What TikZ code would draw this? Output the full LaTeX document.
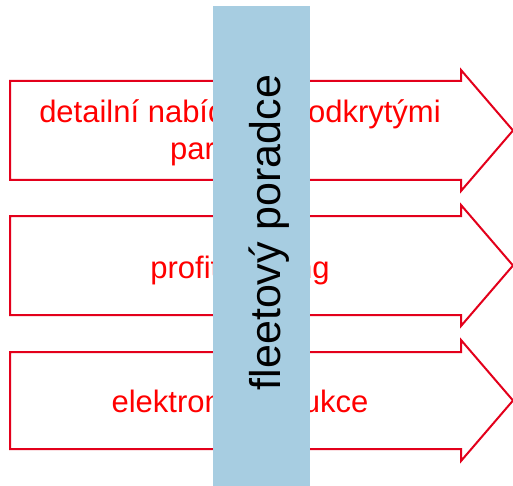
\documentclass[tikz,border=0pt]{standalone}
\usepackage{fontspec}
\setmainfont{Liberation Sans}
\definecolor{arrowred}{HTML}{E3001B}
\definecolor{barblue}{HTML}{A7CDE1}
\begin{document}
\begin{tikzpicture}[x=1pt,y=-1pt,
  arrowshape/.style={draw=arrowred,line width=2pt,fill=white,line join=miter},
  redtext/.style={text=red,font=\fontsize{31}{37}\selectfont,inner sep=0pt,align=center},
  bartext/.style={text=black,font=\fontsize{43}{50}\selectfont,inner sep=0pt,rotate=90}]
\useasboundingbox (0,0) rectangle (513,486);
\fill[white] (0,0) rectangle (513,486);
% arrows
\draw[arrowshape] (10,81) -- (461,81) -- (461,70) -- (513,130.5) -- (461,191) -- (461,180) -- (10,180) -- cycle;
\draw[arrowshape] (10,216) -- (461,216) -- (461,205) -- (513,265.5) -- (461,326) -- (461,315) -- (10,315) -- cycle;
\draw[arrowshape] (10,352) -- (461,352) -- (461,340) -- (513,400.5) -- (461,461) -- (461,449) -- (10,449) -- cycle;
% texts
\node[redtext,anchor=base] (t1) at (240,160) {detailní nabídka s podkrytými\\parametry};
\node[redtext,anchor=base] (t2) at (240,278) {profit sharing};
\node[redtext,anchor=base] (t3) at (240,412) {elektronické aukce};
% bar
\node[fill=barblue,minimum width=97pt,minimum height=480pt,inner sep=0pt,anchor=north west] (bar) at (213,6) {};
\node[bartext,anchor=base] (bt) at (280,232.5) {fleetový poradce};
\end{tikzpicture}
\end{document}
